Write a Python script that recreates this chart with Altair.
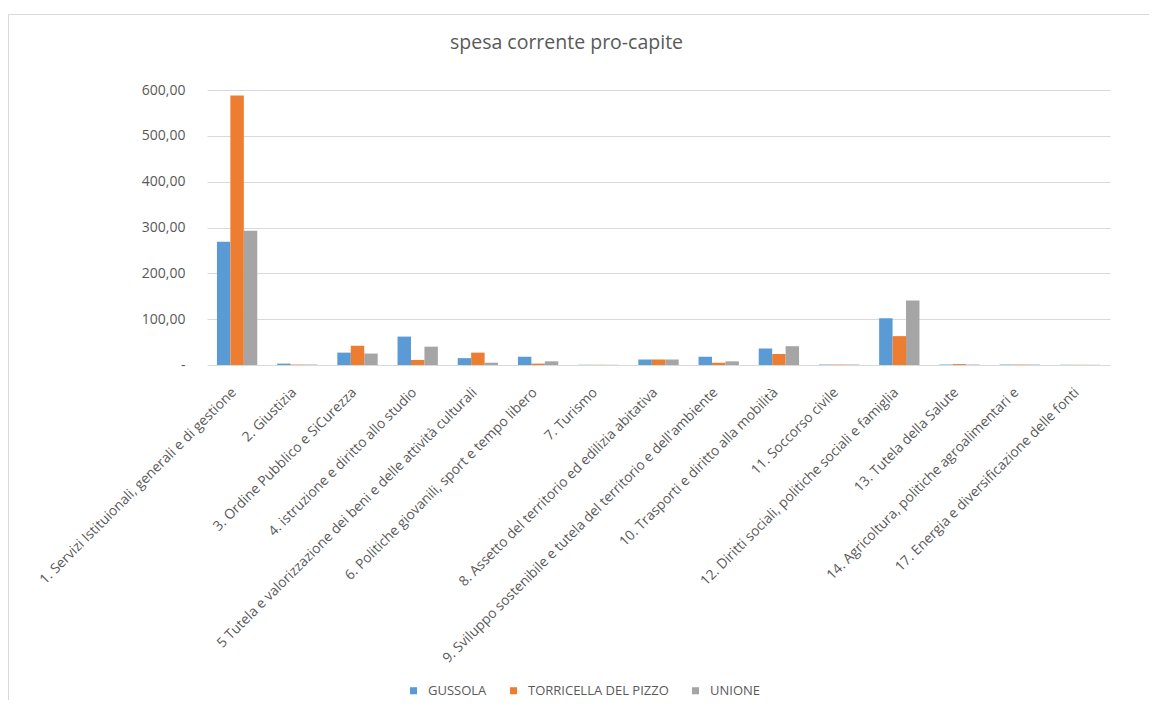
import altair as alt
import pandas as pd

categories = [
    "1. Servizi Istituionali, generali e di gestione",
    "2. Giustizia",
    "3. Ordine Pubblico e SiCurezza",
    "4. istruzione e diritto allo studio",
    "5 Tutela e valorizzazione dei beni e delle attività culturali",
    "6. Politiche giovanili, sport e tempo libero",
    "7. Turismo",
    "8. Assetto del territorio ed edilizia abitativa",
    "9. Sviluppo sostenibile e tutela del territorio e dell'ambiente",
    "10. Trasporti e diritto alla mobilità",
    "11. Soccorso civile",
    "12. Diritti sociali, politiche sociali e famiglia",
    "13. Tutela della Salute",
    "14. Agricoltura, politiche agroalimentari e",
    "17. Energia e diversificazione delle fonti",
]
series = ["GUSSOLA", "TORRICELLA DEL PIZZO", "UNIONE"]
gussola = [269, 3, 27, 62, 15, 18, 0.5, 12, 18, 36, 1, 102, 1, 1, 0.5]
torricella = [588, 1, 42, 11, 27, 3, 0.5, 12, 5, 24, 1, 63, 2, 1, 0.5]
unione = [293, 1, 25, 40, 5, 8, 0.5, 12, 8, 41, 1, 141, 1, 1, 0.5]
colors = ["#5B9BD5", "#ED7D31", "#A5A5A5"]
y_ticks = [0, 100, 200, 300, 400, 500, 600]

rows = []
for name, vals in zip(series, [gussola, torricella, unione]):
    for c, v in zip(categories, vals):
        rows.append({"cat": c, "serie": name, "val": v})
df = pd.DataFrame(rows)

FONT = "Open Sans"
TXT = "#595959"

bars = alt.Chart(df).mark_bar().encode(
    x=alt.X(
        "cat:N",
        sort=categories,
        scale=alt.Scale(paddingInner=0.33, paddingOuter=0.165),
        axis=alt.Axis(
            title=None, labelAngle=-45, labelFontSize=13.8, labelColor=TXT,
            labelFont=FONT, ticks=False, domain=False, labelLimit=600,
            labelPadding=20, labelOffset=-8,
        ),
    ),
    xOffset=alt.XOffset("serie:N", sort=series),
    y=alt.Y(
        "val:Q",
        scale=alt.Scale(domain=[0, 600], nice=False),
        axis=alt.Axis(
            title=None, values=y_ticks, grid=True, gridColor="#d9d9d9",
            domain=False, ticks=False, labelPadding=22, labelFontSize=14,
            labelColor=TXT, labelFont=FONT,
            labelExpr="datum.value == 0 ? '-' : replace(format(datum.value, '.2f'), '.', ',')",
        ),
    ),
    color=alt.Color(
        "serie:N",
        sort=series,
        scale=alt.Scale(domain=series, range=colors),
        legend=alt.Legend(
            orient="none", legendX=200, legendY=594, direction="horizontal",
            title=None, symbolType="square", symbolSize=50, symbolStrokeWidth=0,
            labelFontSize=13, labelColor=TXT, labelFont=FONT,
            columnPadding=20, labelOffset=8,
        ),
    ),
)

border = alt.Chart(pd.DataFrame({"k": [0]})).mark_rect(
    fillOpacity=0, stroke="#d9d9d9", strokeWidth=1, clip=False
).encode(
    x=alt.value(-198.5), x2=alt.value(1000), y=alt.value(-75.5), y2=alt.value(700)
)

chart = alt.layer(border, bars).properties(
    width=903,
    height=275,
    autosize=alt.AutoSizeParams(type="none"),
    padding={"left": 199, "top": 82, "right": 39, "bottom": 335},
    title=alt.Title(
        "spesa corrente pro-capite", fontSize=19.5, font=FONT, color=TXT,
        fontWeight="normal", anchor="middle", dx=-92, offset=-39,
    ),
).configure_view(stroke=None)

chart.save("out.html", embed_options={"renderer": "svg", "actions": False})
